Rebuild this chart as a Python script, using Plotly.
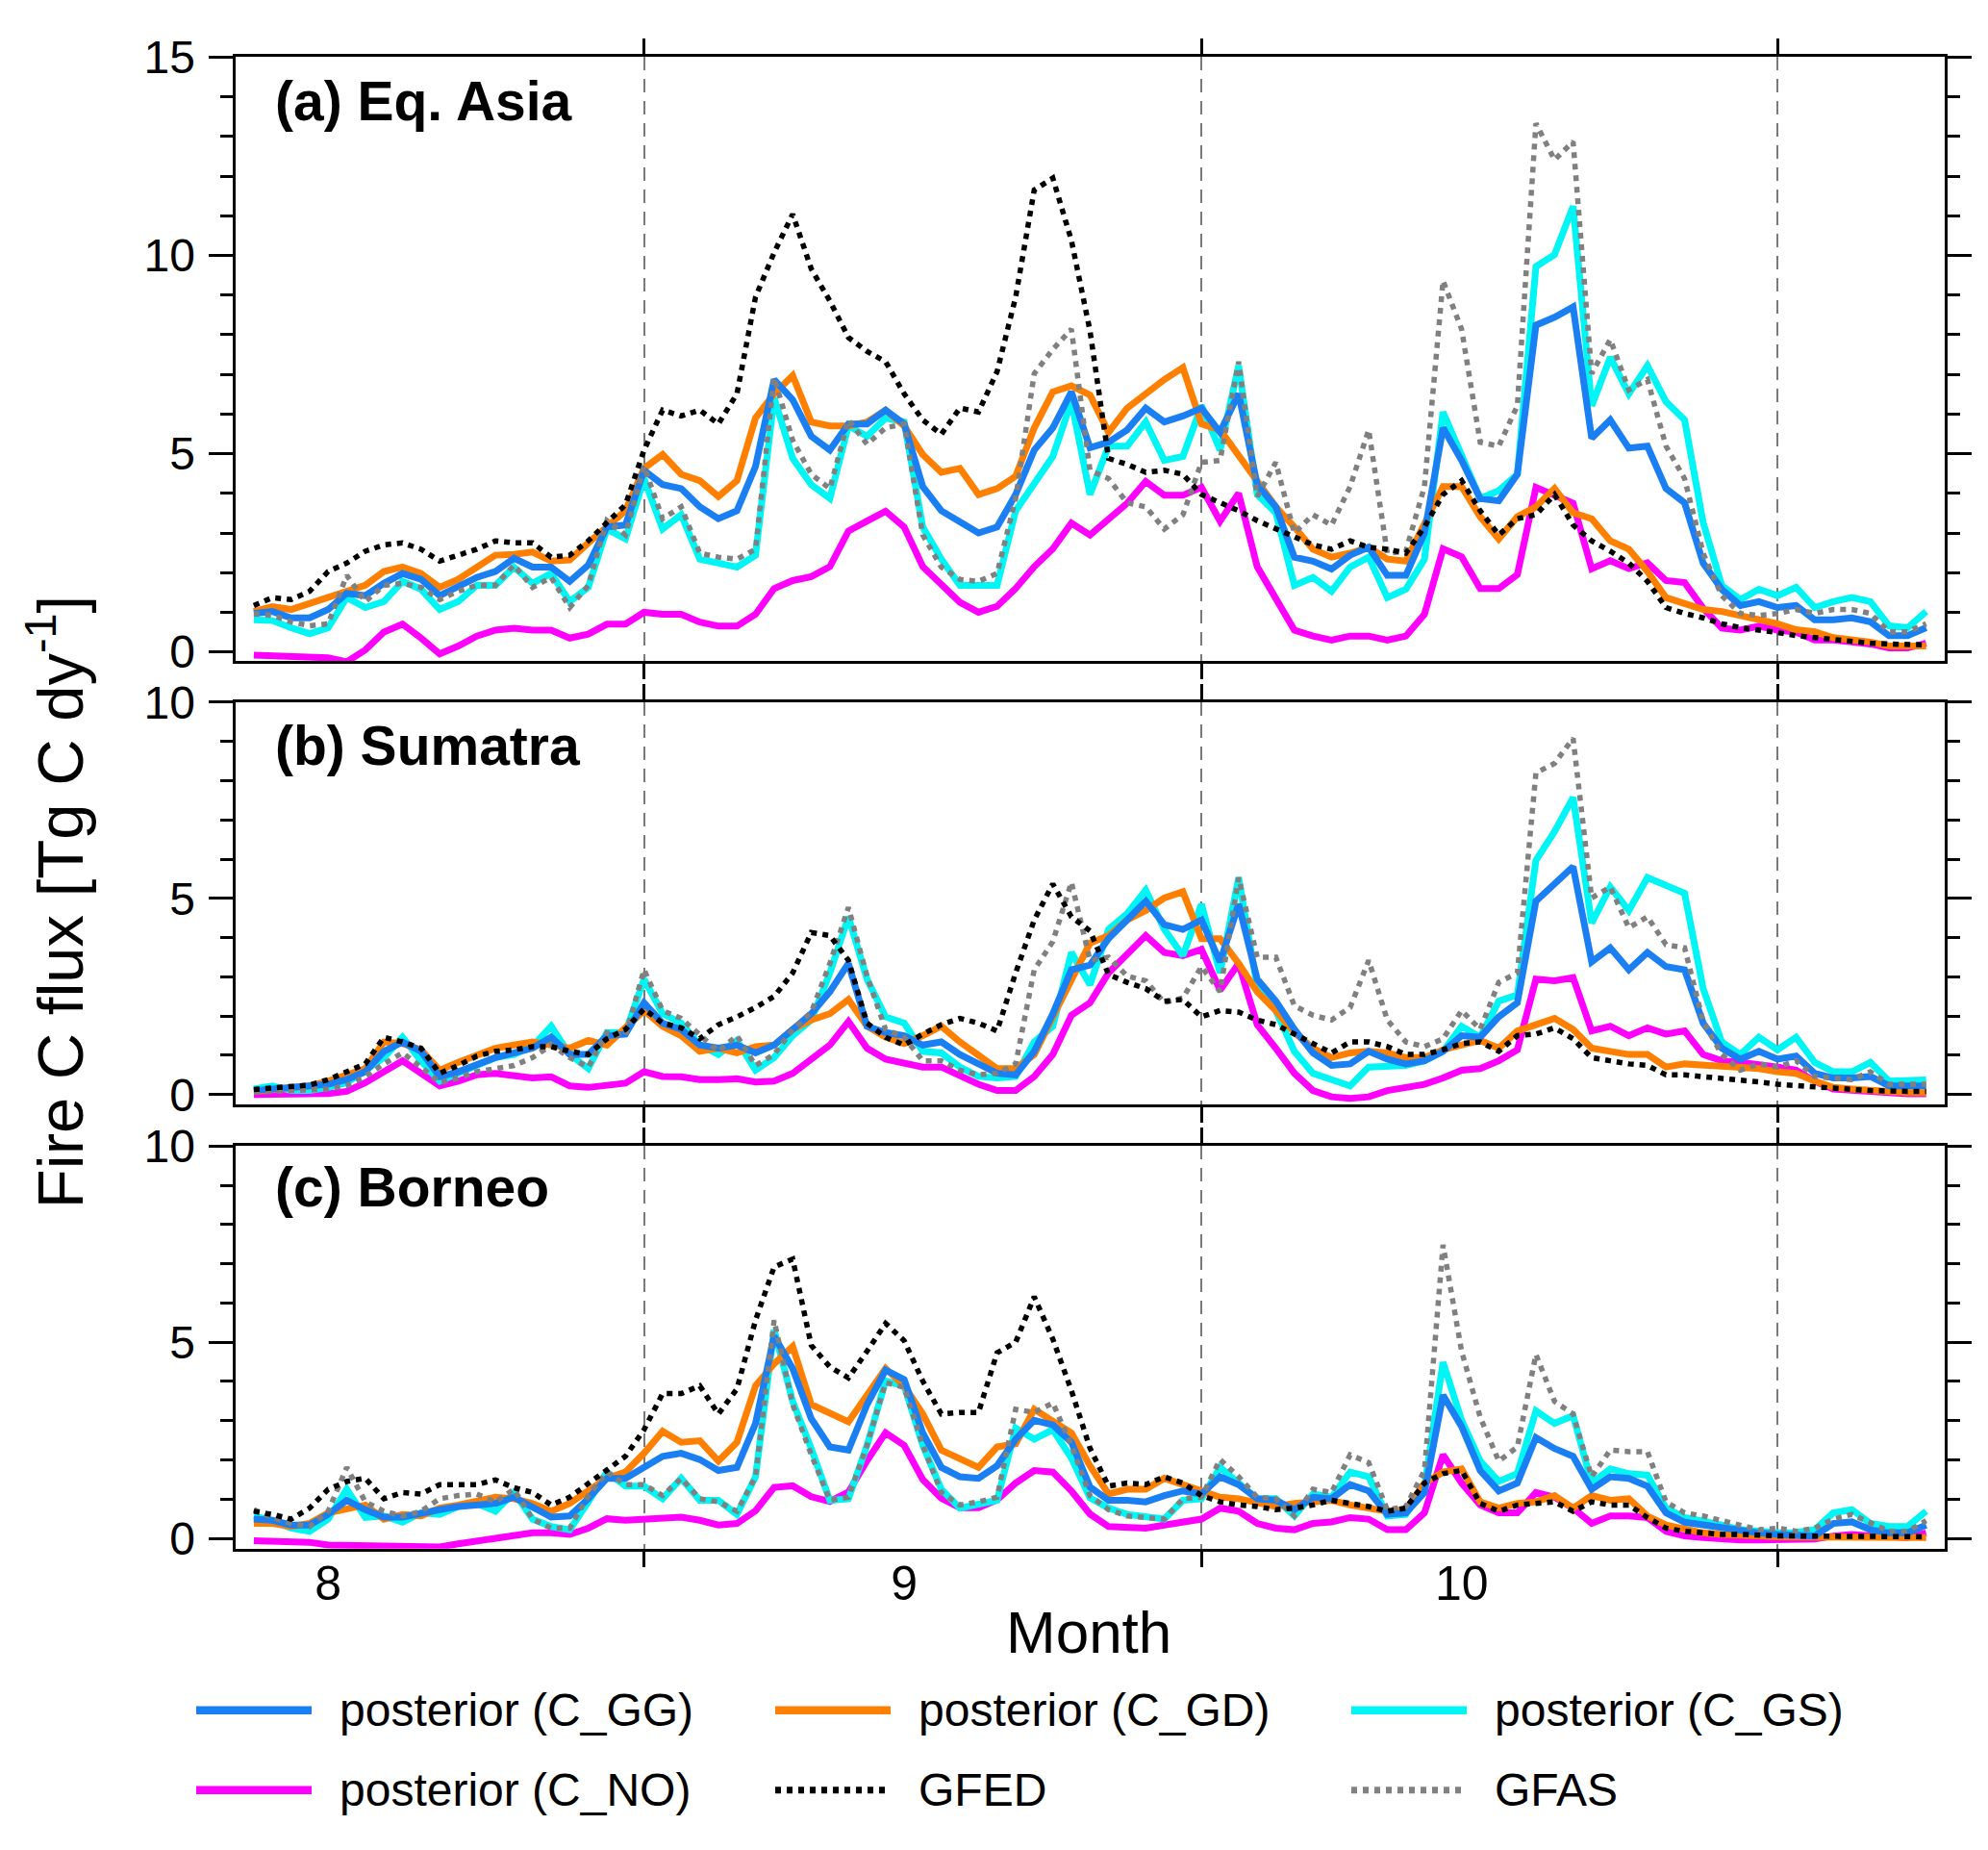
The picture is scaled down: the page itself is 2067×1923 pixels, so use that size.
import pandas as pd
import plotly.graph_objects as go

# daily values, 11 Aug - 9 Nov 2015
dates = pd.date_range("2015-08-11", "2015-11-09", freq="D")

# (a) Eq. Asia
asia_gg = [0.97, 1.02, 0.86, 0.86, 1.07, 1.48, 1.42, 1.73, 1.98, 1.83,
           1.42, 1.63, 1.88, 2.03, 2.36, 2.14, 2.14, 1.78, 2.19, 3.15,
           3.2, 4.58, 4.22, 4.12, 3.66, 3.36, 3.56, 4.68, 6.87, 6.36,
           5.44, 5.09, 5.75, 5.75, 6.1, 5.75, 4.17, 3.56, 3.26, 3.0,
           3.15, 3.97, 5.09, 5.65, 6.56, 5.15, 5.29, 5.6, 6.15, 5.8,
           5.95, 6.15, 5.54, 6.51, 4.22, 3.66, 2.39, 2.29, 2.09, 2.44,
           2.64, 1.93, 1.93, 3.0, 5.65, 4.83, 3.87, 3.81, 4.48, 8.24,
           8.44, 8.7, 5.39, 5.85, 5.14, 5.19, 4.12, 3.76, 2.24, 1.58,
           1.17, 1.27, 1.12, 1.17, 0.81, 0.81, 0.86, 0.76, 0.41, 0.41,
           0.61]
asia_gd = [1.02, 1.14, 1.07, 1.22, 1.37, 1.55, 1.68, 2.03, 2.14, 1.98,
           1.63, 1.83, 2.14, 2.44, 2.46, 2.52, 2.29, 2.32, 2.75, 3.15,
           3.56, 4.63, 4.98, 4.48, 4.32, 3.92, 4.32, 5.9, 6.51, 6.97,
           5.8, 5.7, 5.7, 5.8, 6.1, 5.7, 4.98, 4.53, 4.63, 3.97,
           4.12, 4.43, 5.65, 6.56, 6.71, 6.48, 5.54, 6.15, 6.51, 6.87,
           7.17, 5.75, 5.6, 4.93, 4.27, 3.66, 3.15, 2.59, 2.39, 2.49,
           2.64, 2.34, 2.29, 3.2, 4.17, 4.17, 3.41, 2.85, 3.41, 3.66,
           4.12, 3.51, 3.36, 2.8, 2.59, 2.03, 1.37, 1.22, 1.07, 1.02,
           0.92, 0.81, 0.71, 0.56, 0.51, 0.36, 0.31, 0.25, 0.15, 0.15,
           0.15]
asia_gs = [0.81, 0.79, 0.61, 0.46, 0.61, 1.37, 1.12, 1.27, 1.78, 1.58,
           1.07, 1.27, 1.68, 1.68, 2.14, 1.73, 1.98, 1.27, 1.63, 3.1,
           2.85, 4.37, 3.1, 3.46, 2.34, 2.24, 2.14, 2.44, 6.41, 4.88,
           4.22, 3.87, 5.7, 5.44, 5.9, 5.8, 3.15, 2.34, 1.68, 1.68,
           1.68, 3.56, 4.27, 4.93, 6.31, 3.97, 5.19, 5.19, 5.8, 4.83,
           4.93, 6.21, 5.09, 7.22, 3.97, 3.51, 1.68, 1.88, 1.53, 2.14,
           2.39, 1.37, 1.58, 2.34, 6.05, 4.93, 3.87, 4.07, 4.48, 9.72,
           10.02, 11.24, 6.21, 7.43, 6.51, 7.22, 6.31, 5.85, 3.26, 1.68,
           1.32, 1.58, 1.42, 1.63, 1.12, 1.27, 1.37, 1.27, 0.66, 0.61,
           1.02]
asia_no = [-0.08, -0.09, -0.1, -0.1, -0.15, -0.25, 0.05, 0.5, 0.7, 0.35,
           -0.05, 0.15, 0.4, 0.55, 0.6, 0.55, 0.55, 0.35, 0.45, 0.7,
           0.7, 1.0, 0.95, 0.95, 0.75, 0.65, 0.65, 0.95, 1.6, 1.8,
           1.9, 2.15, 3.05, 3.3, 3.55, 3.15, 2.15, 1.7, 1.25, 1.0,
           1.15, 1.6, 2.15, 2.6, 3.25, 2.95, 3.35, 3.75, 4.3, 3.95,
           3.95, 4.15, 3.3, 4.0, 2.15, 1.35, 0.55, 0.4, 0.3, 0.4,
           0.4, 0.3, 0.4, 0.95, 2.6, 2.4, 1.6, 1.6, 1.95, 4.15,
           3.95, 3.75, 2.1, 2.3, 2.1, 2.25, 1.8, 1.75, 1.1, 0.6,
           0.55, 0.65, 0.55, 0.5, 0.3, 0.3, 0.25, 0.2, 0.1, 0.1,
           0.22]
asia_gfed = [1.17, 1.37, 1.32, 1.53, 2.03, 2.24, 2.54, 2.7, 2.75, 2.59,
             2.29, 2.44, 2.59, 2.8, 2.75, 2.75, 2.39, 2.44, 2.8, 3.26,
             3.71, 5.09, 6.1, 5.95, 6.1, 5.75, 6.51, 8.95, 10.07, 11.04,
             9.66, 8.85, 7.93, 7.58, 7.32, 6.51, 5.85, 5.49, 6.15, 6.05,
             7.07, 8.95, 11.65, 11.95, 10.38, 8.1, 4.88, 4.73, 4.53, 4.58,
             4.48, 3.97, 3.76, 3.56, 3.31, 3.1, 2.9, 2.7, 2.59, 2.8,
             2.64, 2.59, 2.49, 3.15, 3.97, 4.32, 3.56, 2.95, 3.36, 3.46,
             3.97, 3.2, 2.8, 2.54, 2.24, 1.78, 1.12, 0.97, 0.86, 0.71,
             0.61, 0.56, 0.49, 0.41, 0.36, 0.31, 0.27, 0.22, 0.2, 0.18,
             0.18]
asia_gfas = [0.97, 0.92, 0.76, 0.66, 0.71, 1.93, 1.27, 1.68, 1.73, 1.63,
             1.32, 1.53, 1.68, 1.68, 2.19, 1.63, 1.88, 1.12, 1.68, 3.31,
             2.95, 4.68, 3.36, 3.66, 2.49, 2.39, 2.34, 2.59, 6.92, 5.34,
             4.48, 4.12, 5.85, 5.24, 5.65, 5.75, 2.95, 2.14, 1.83, 1.78,
             1.98, 3.87, 7.02, 7.63, 8.14, 4.58, 4.37, 3.76, 3.66, 3.1,
             3.46, 4.78, 4.83, 7.32, 3.92, 4.78, 3.0, 3.46, 3.2, 4.17,
             5.6, 2.49, 2.54, 4.17, 9.36, 8.14, 5.29, 5.19, 6.21, 13.33,
             12.41, 12.87, 7.02, 7.88, 6.61, 6.87, 5.19, 4.37, 2.49, 1.42,
             0.97, 0.92, 0.97, 1.07, 0.97, 1.07, 1.07, 0.97, 0.51, 0.51,
             0.71]

# (b) Sumatra
sum_gg = [0.1, 0.14, 0.16, 0.18, 0.26, 0.38, 0.58, 1.1, 1.34, 1.1,
          0.46, 0.58, 0.78, 0.94, 1.06, 1.18, 1.46, 1.02, 1.02, 1.5,
          1.54, 2.34, 1.82, 1.66, 1.26, 1.18, 1.26, 1.06, 1.26, 1.66,
          2.06, 2.62, 3.34, 1.74, 1.58, 1.5, 1.26, 1.34, 1.02, 0.78,
          0.54, 0.5, 1.1, 2.06, 3.18, 3.3, 3.98, 4.45, 4.93, 4.33,
          4.21, 4.45, 3.38, 4.85, 2.94, 2.38, 1.66, 1.06, 0.74, 0.78,
          1.1, 0.9, 0.78, 0.86, 1.1, 1.5, 1.46, 1.98, 2.34, 4.93,
          5.37, 5.81, 3.38, 3.74, 3.18, 3.62, 3.26, 3.18, 1.82, 1.18,
          0.9, 1.1, 0.9, 0.98, 0.54, 0.42, 0.42, 0.46, 0.22, 0.22,
          0.22]
sum_gd = [0.08, 0.14, 0.18, 0.22, 0.34, 0.5, 0.66, 1.34, 1.3, 1.14,
          0.62, 0.82, 1.02, 1.18, 1.26, 1.34, 1.26, 1.18, 1.38, 1.26,
          1.7, 2.14, 1.74, 1.5, 1.1, 1.18, 1.06, 1.22, 1.26, 1.66,
          1.9, 2.06, 2.42, 1.74, 1.46, 1.3, 1.5, 1.74, 1.34, 0.98,
          0.66, 0.66, 1.02, 1.98, 2.94, 3.86, 4.05, 4.45, 4.69, 5.01,
          5.17, 3.97, 3.97, 3.34, 2.62, 2.14, 1.58, 1.18, 0.94, 1.06,
          1.1, 1.06, 0.94, 0.94, 1.14, 1.26, 1.38, 1.18, 1.62, 1.78,
          1.94, 1.66, 1.18, 1.1, 1.02, 1.02, 0.7, 0.78, 0.76, 0.74,
          0.7, 0.66, 0.58, 0.54, 0.34, 0.18, 0.14, 0.13, 0.08, 0.05,
          0.05]
sum_gs = [0.14, 0.22, 0.1, 0.1, 0.18, 0.3, 0.62, 0.94, 1.46, 0.86,
          0.34, 0.54, 0.78, 0.94, 1.02, 1.22, 1.74, 1.02, 0.66, 1.58,
          1.58, 2.94, 2.06, 1.82, 1.26, 1.02, 1.38, 0.62, 0.94, 1.5,
          1.9, 3.1, 4.53, 2.94, 1.98, 1.82, 1.1, 1.06, 0.7, 0.46,
          0.42, 0.46, 1.34, 1.74, 3.62, 2.8, 4.21, 4.61, 5.21, 4.21,
          3.54, 4.85, 3.1, 5.53, 2.74, 2.14, 1.1, 0.54, 0.38, 0.22,
          0.7, 0.7, 0.74, 0.86, 1.1, 1.74, 1.46, 2.38, 2.54, 5.97,
          6.7, 7.57, 4.37, 5.29, 4.69, 5.53, 5.33, 5.13, 2.7, 1.34,
          1.02, 1.46, 1.14, 1.46, 0.82, 0.58, 0.58, 0.82, 0.34, 0.34,
          0.37]
sum_no = [0.0, 0.0, 0.0, 0.0, 0.02, 0.08, 0.3, 0.58, 0.86, 0.54,
          0.22, 0.34, 0.5, 0.54, 0.5, 0.42, 0.45, 0.22, 0.18, 0.22,
          0.29, 0.58, 0.46, 0.45, 0.38, 0.38, 0.4, 0.32, 0.34, 0.54,
          0.9, 1.26, 1.86, 1.18, 0.9, 0.78, 0.7, 0.7, 0.46, 0.26,
          0.1, 0.1, 0.46, 1.02, 2.02, 2.34, 3.1, 3.58, 4.05, 3.62,
          3.54, 3.7, 2.66, 3.34, 1.78, 1.18, 0.54, 0.1, -0.06, -0.1,
          -0.06, 0.1, 0.18, 0.26, 0.42, 0.62, 0.66, 0.86, 1.14, 2.94,
          2.9, 2.98, 1.62, 1.74, 1.5, 1.7, 1.54, 1.62, 1.02, 0.86,
          0.82, 0.78, 0.7, 0.62, 0.34, 0.14, 0.1, 0.08, 0.02, 0.02,
          0.02]
sum_gfed = [0.13, 0.16, 0.18, 0.24, 0.38, 0.58, 0.78, 1.46, 1.34, 1.18,
            0.54, 0.74, 0.98, 1.1, 1.14, 1.22, 1.22, 1.1, 1.02, 1.42,
            1.66, 2.18, 1.82, 1.7, 1.42, 1.78, 1.98, 2.22, 2.5, 3.1,
            4.13, 4.05, 3.42, 1.82, 1.46, 1.26, 1.54, 1.78, 1.94, 1.82,
            1.62, 3.1, 4.45, 5.37, 4.53, 4.17, 3.06, 2.86, 2.7, 2.38,
            2.42, 1.98, 2.14, 2.1, 1.9, 1.78, 1.54, 1.3, 1.06, 1.34,
            1.34, 1.22, 1.02, 1.02, 1.14, 1.3, 1.34, 1.1, 1.5, 1.54,
            1.7, 1.42, 0.94, 0.86, 0.78, 0.74, 0.5, 0.5, 0.46, 0.42,
            0.37, 0.32, 0.26, 0.22, 0.18, 0.14, 0.13, 0.1, 0.08, 0.08,
            0.08]
sum_gfas = [0.06, 0.08, 0.1, 0.1, 0.14, 0.22, 0.46, 0.78, 1.06, 0.7,
            0.3, 0.42, 0.58, 0.66, 0.74, 0.94, 1.26, 0.94, 0.7, 1.58,
            1.5, 3.18, 2.14, 1.94, 1.5, 1.1, 1.5, 0.74, 1.02, 1.66,
            2.1, 3.34, 4.77, 3.02, 1.66, 1.46, 0.86, 0.86, 0.62, 0.5,
            0.54, 0.78, 3.18, 3.9, 5.41, 3.42, 3.5, 3.02, 2.9, 2.34,
            2.46, 3.26, 2.62, 5.53, 3.5, 3.5, 2.26, 2.02, 1.9, 2.22,
            3.42, 1.9, 1.34, 1.22, 1.42, 2.14, 1.66, 2.86, 3.1, 8.2,
            8.44, 9.08, 5.01, 5.29, 4.25, 4.53, 3.82, 3.74, 1.86, 1.02,
            0.62, 0.78, 0.7, 0.86, 0.46, 0.42, 0.38, 0.58, 0.26, 0.26,
            0.26]

# (c) Borneo
bor_gg = [0.49, 0.46, 0.34, 0.34, 0.61, 0.97, 0.73, 0.54, 0.54, 0.65,
          0.73, 0.81, 0.85, 0.89, 1.05, 0.78, 0.54, 0.57, 1.01, 1.53,
          1.53, 1.81, 2.09, 2.17, 2.01, 1.73, 1.81, 2.93, 5.16, 4.33,
          3.05, 2.33, 2.25, 3.41, 4.29, 4.05, 2.69, 1.81, 1.57, 1.53,
          1.85, 2.53, 3.01, 2.89, 2.45, 1.31, 0.97, 0.97, 0.93, 1.09,
          1.21, 1.13, 1.57, 1.37, 1.01, 0.97, 0.73, 1.05, 1.01, 1.37,
          1.21, 0.61, 0.65, 1.17, 3.65, 2.85, 1.73, 1.21, 1.41, 2.57,
          2.29, 2.09, 1.25, 1.57, 1.53, 1.33, 0.65, 0.41, 0.34, 0.26,
          0.18, 0.14, 0.1, 0.1, 0.06, 0.38, 0.42, 0.22, 0.14, 0.14,
          0.34]
bor_gd = [0.38, 0.38, 0.3, 0.38, 0.65, 0.73, 0.85, 0.49, 0.61, 0.57,
          0.77, 0.85, 0.93, 1.05, 1.01, 0.89, 0.69, 0.89, 1.21, 1.53,
          1.69, 2.17, 2.73, 2.45, 2.49, 1.97, 2.45, 3.89, 4.45, 4.89,
          3.41, 3.21, 2.97, 3.65, 4.33, 3.89, 3.17, 2.25, 2.01, 1.81,
          2.33, 2.41, 3.29, 3.01, 2.69, 1.85, 1.13, 1.25, 1.25, 1.53,
          1.37, 1.21, 1.05, 1.01, 0.93, 0.81, 0.89, 0.93, 0.97, 0.85,
          0.77, 0.69, 0.73, 1.41, 1.69, 1.77, 0.93, 0.77, 0.89, 0.93,
          1.09, 0.77, 1.09, 0.97, 1.01, 0.57, 0.34, 0.22, 0.14, 0.1,
          0.06, 0.06, 0.04, 0.04, 0.04, 0.06, 0.06, 0.04, 0.02, 0.02,
          0.02]
bor_gs = [0.57, 0.45, 0.26, 0.18, 0.49, 1.25, 0.53, 0.57, 0.41, 0.65,
          0.61, 0.81, 0.89, 0.69, 1.17, 0.49, 0.3, 0.22, 0.93, 1.69,
          1.33, 1.33, 1.01, 1.53, 0.97, 0.97, 0.61, 1.57, 5.32, 3.49,
          2.29, 0.97, 1.01, 2.37, 4.01, 3.89, 2.37, 1.25, 0.77, 0.85,
          0.97, 2.81, 2.53, 2.77, 2.05, 1.03, 0.77, 0.61, 0.53, 0.49,
          0.97, 1.01, 1.81, 1.41, 1.01, 1.01, 0.57, 1.13, 1.05, 1.69,
          1.57, 0.57, 0.61, 1.33, 4.49, 3.01, 1.97, 1.45, 1.65, 3.25,
          2.93, 3.13, 1.41, 1.77, 1.65, 1.61, 0.77, 0.53, 0.45, 0.34,
          0.22, 0.18, 0.14, 0.15, 0.22, 0.65, 0.73, 0.38, 0.3, 0.3,
          0.69]
bor_no = [-0.06, -0.06, -0.06, -0.1, -0.17, -0.18, -0.18, -0.18, -0.18, -0.22,
          -0.22, -0.14, -0.06, 0.02, 0.1, 0.14, 0.14, 0.1, 0.26, 0.5,
          0.46, 0.5, 0.54, 0.54, 0.46, 0.34, 0.38, 0.7, 1.3, 1.34,
          1.06, 0.94, 1.18, 1.98, 2.69, 2.37, 1.5, 1.02, 0.78, 0.78,
          0.98, 1.41, 1.73, 1.69, 1.21, 0.62, 0.3, 0.28, 0.26, 0.34,
          0.42, 0.49, 0.77, 0.69, 0.38, 0.26, 0.22, 0.38, 0.42, 0.53,
          0.49, 0.22, 0.22, 0.65, 2.13, 1.41, 0.85, 0.65, 0.65, 1.17,
          1.05, 0.77, 0.38, 0.57, 0.57, 0.53, 0.18, 0.06, 0.02, -0.02,
          -0.04, -0.04, -0.04, -0.04, -0.02, 0.06, 0.1, 0.06, 0.02, 0.02,
          0.14]
bor_gfed = [0.69, 0.61, 0.49, 0.77, 1.25, 1.45, 1.53, 1.01, 1.17, 1.13,
            1.37, 1.37, 1.37, 1.49, 1.29, 1.17, 0.85, 1.05, 1.41, 1.77,
            2.09, 2.77, 3.69, 3.69, 3.89, 3.17, 3.81, 5.56, 6.92, 7.12,
            4.92, 4.37, 4.09, 4.77, 5.48, 5.04, 4.01, 3.17, 3.21, 3.21,
            4.73, 5.0, 6.16, 5.08, 3.77, 2.3, 1.33, 1.41, 1.37, 1.57,
            1.41, 1.09, 0.93, 0.85, 0.81, 0.73, 0.77, 0.85, 0.97, 0.89,
            0.81, 0.69, 0.77, 1.41, 1.65, 1.73, 0.89, 0.69, 0.85, 0.89,
            0.93, 0.69, 0.93, 0.85, 0.85, 0.53, 0.26, 0.18, 0.14, 0.1,
            0.1, 0.07, 0.06, 0.06, 0.06, 0.06, 0.06, 0.04, 0.04, 0.04,
            0.04]
bor_gfas = [0.73, 0.53, 0.38, 0.3, 0.69, 1.81, 0.93, 0.69, 0.57, 0.69,
            1.01, 1.09, 1.13, 0.93, 1.25, 0.49, 0.26, 0.26, 1.09, 1.69,
            1.37, 1.37, 1.09, 1.53, 1.01, 0.93, 0.69, 1.57, 5.56, 3.41,
            2.13, 0.97, 1.05, 2.37, 3.97, 3.85, 2.37, 1.17, 0.85, 0.93,
            1.05, 3.29, 3.21, 3.45, 2.37, 1.09, 0.73, 0.57, 0.53, 0.49,
            1.01, 1.05, 2.01, 1.57, 1.05, 1.01, 0.57, 1.25, 1.17, 2.13,
            1.93, 0.73, 0.81, 1.73, 7.48, 4.77, 3.09, 1.97, 2.33, 4.69,
            3.49, 3.17, 1.57, 2.25, 2.21, 2.21, 0.93, 0.65, 0.57, 0.45,
            0.34, 0.22, 0.26, 0.18, 0.26, 0.49, 0.61, 0.38, 0.18, 0.18,
            0.45]

panel_titles = ["(a) Eq. Asia", "(b) Sumatra", "(c) Borneo"]
panel_ranges = [[-0.225, 15], [-0.26, 10], [-0.26, 10]]
month_ticks = ["2015-08-15", "2015-09-15", "2015-10-15"]
month_labels = ["8", "9", "10"]
month_bounds = ["2015-09-01", "2015-10-01", "2015-11-01"]

# series styles (key -> label, colour, width, dash)
styles = {
    "NO": ("posterior (C_NO)", "#ff00ff", 7, "solid"),
    "GS": ("posterior (C_GS)", "#00f5f5", 7, "solid"),
    "GD": ("posterior (C_GD)", "#ff7f00", 7, "solid"),
    "GG": ("posterior (C_GG)", "#1a7ff2", 7, "solid"),
    "GFAS": ("GFAS", "#808080", 5.5, "6px,6px"),
    "GFED": ("GFED", "#000000", 5.5, "6px,6px"),
}
draw_order = ["NO", "GS", "GD", "GG", "GFAS", "GFED"]

panels = [
    dict(GG=asia_gg, GD=asia_gd, GS=asia_gs, NO=asia_no, GFED=asia_gfed, GFAS=asia_gfas),
    dict(GG=sum_gg, GD=sum_gd, GS=sum_gs, NO=sum_no, GFED=sum_gfed, GFAS=sum_gfas),
    dict(GG=bor_gg, GD=bor_gd, GS=bor_gs, NO=bor_no, GFED=bor_gfed, GFAS=bor_gfas),
]

W, H = 2051, 1907
FONT = "Liberation Sans, Arial, sans-serif"

# pixel layout (figure coords, from top-left)
x_left, x_right = 236.6, 2014
panel_px = [(26, 668), (712, 1140), (1184, 1612)]


def px_x(x):
    return x / W


def px_y(y):
    return 1 - y / H


fig = go.Figure()
layout = dict(
    width=W, height=H,
    margin=dict(l=0, r=0, t=0, b=0),
    paper_bgcolor="white", plot_bgcolor="white",
    showlegend=False,
    font=dict(family=FONT, color="black", size=48),
)

for k, data in enumerate(panels):
    n = k + 1
    xa = "x" if n == 1 else f"x{n}"
    ya = "y" if n == 1 else f"y{n}"
    for key in draw_order:
        label, color, width, dash = styles[key]
        fig.add_trace(go.Scatter(
            x=dates, y=data[key], mode="lines", name=label,
            line=dict(color=color, width=width, dash=dash),
            xaxis=xa, yaxis=ya,
        ))

    top, bot = panel_px[k]
    layout[f"xaxis{'' if n == 1 else n}"] = dict(
        type="date", range=["2015-08-10", "2015-11-10"],
        domain=[px_x(x_left), px_x(x_right)], anchor=ya,
        tickmode="array", tickvals=month_ticks, ticktext=month_labels,
        ticks="", showticklabels=(n == 3), ticklabelstandoff=-10,
        tickfont=dict(size=50),
        showline=True, linecolor="black", linewidth=3, mirror="ticks",
        showgrid=False, zeroline=False,
        minor=dict(tickmode="array", tickvals=month_bounds, ticks="outside",
                   ticklen=16, tickwidth=2.5, tickcolor="black",
                   showgrid=True, gridcolor="#7a7a7a", gridwidth=2,
                   griddash="14px,9px"),
    )
    layout[f"yaxis{'' if n == 1 else n}"] = dict(
        domain=[px_y(bot), px_y(top)], range=panel_ranges[k], anchor=xa,
        tickmode="linear", tick0=0, dtick=5,
        ticks="outside", ticklen=25, tickwidth=2.5, tickcolor="black",
        ticklabelstandoff=4, tickfont=dict(size=48),
        showline=True, linecolor="black", linewidth=3, mirror="ticks",
        showgrid=False, zeroline=False,
        minor=dict(dtick=1, tick0=0, ticks="outside", ticklen=13,
                   tickwidth=2.5, tickcolor="black"),
    )

fig.update_layout(**layout)

# panel titles
title_y = [73, 758, 1228]
for k, t in enumerate(panel_titles):
    fig.add_annotation(
        text=f"<b>{t}</b>", xref="paper", yref="paper",
        x=px_x(276), y=px_y(title_y[k]), xanchor="left", yanchor="middle",
        showarrow=False, font=dict(size=57, family=FONT),
    )

# axis titles
fig.add_annotation(
    text="Fire C flux [Tg C dy<sup>-1</sup>]", xref="paper", yref="paper",
    x=px_x(50), y=px_y(925), xanchor="center", yanchor="middle",
    textangle=-90, showarrow=False, font=dict(size=67, family=FONT),
)
fig.add_annotation(
    text="Month", xref="paper", yref="paper",
    x=px_x(1124), y=px_y(1701), xanchor="center", yanchor="middle",
    showarrow=False, font=dict(size=62, family=FONT),
)

# legend, drawn by hand: 3 columns x 2 rows
legend_rows = [["GG", "GD", "GS"], ["NO", "GFED", "GFAS"]]
row_y = [1784, 1869]
col_x = [196, 798, 1397]
for r, row in enumerate(legend_rows):
    for c, key in enumerate(row):
        label, color, width, dash = styles[key]
        fig.add_shape(
            type="line", xref="paper", yref="paper",
            x0=px_x(col_x[c]), x1=px_x(col_x[c] + 120),
            y0=px_y(row_y[r]), y1=px_y(row_y[r]),
            line=dict(color=color, width=width + 1.5, dash=dash),
        )
        fig.add_annotation(
            text=label, xref="paper", yref="paper",
            x=px_x(col_x[c] + 147), y=px_y(row_y[r]),
            xanchor="left", yanchor="middle", showarrow=False,
            font=dict(size=48, family=FONT),
        )

fig.write_html("out.html")
